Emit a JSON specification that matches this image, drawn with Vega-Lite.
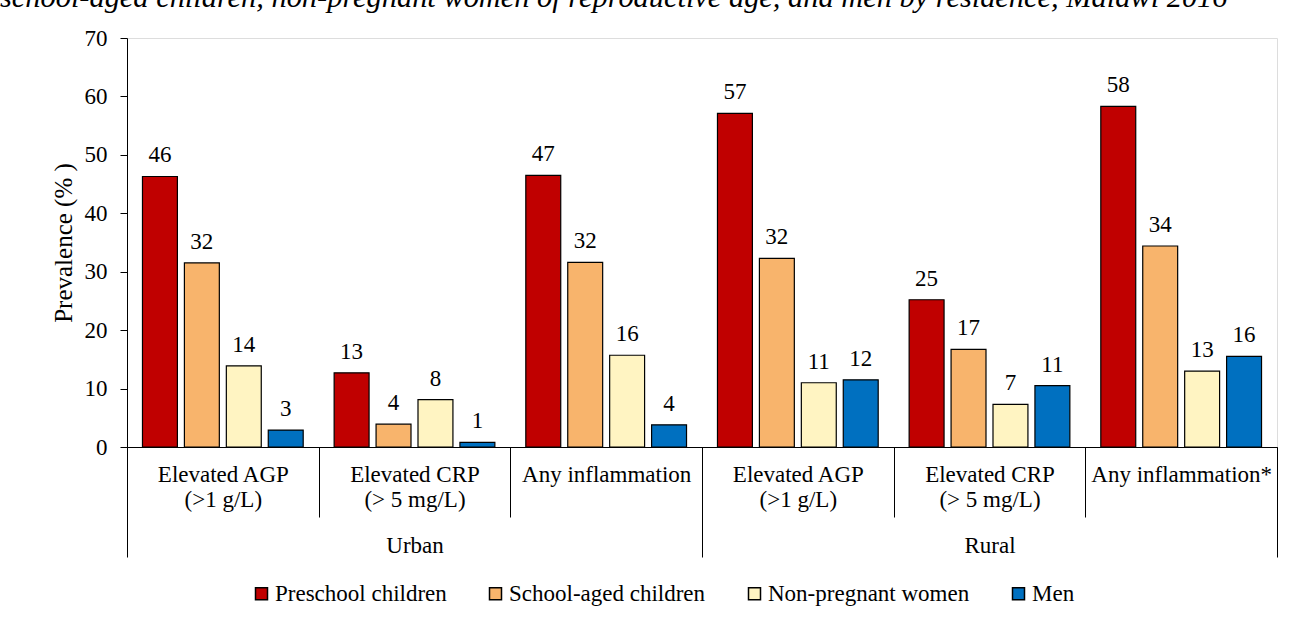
{
  "$schema": "https://vega.github.io/schema/vega-lite/v6.json",
  "width": 1150,
  "height": 409,
  "autosize": {"type": "none"},
  "padding": {"left": 127, "top": 38, "right": 14, "bottom": 177},
  "background": "white",
  "config": {"font": "Times New Roman, Liberation Serif, serif"},
  "title": {
    "text": "school-aged children, non-pregnant women of reproductive age, and men by residence, Malawi 2016",
    "anchor": "start",
    "frame": "group",
    "dx": -127,
    "offset": -10,
    "baseline": "alphabetic",
    "font": "Times New Roman, Liberation Serif, serif",
    "fontStyle": "italic",
    "fontWeight": "normal",
    "fontSize": 30.4,
    "color": "black"
  },
  "data": {
    "values": [
      {"residence": "Urban", "cat": "1 Elevated AGP|(>1 g/L)", "population": "Preschool children", "value": 46.3},
      {"residence": "Urban", "cat": "1 Elevated AGP|(>1 g/L)", "population": "School-aged children", "value": 31.5},
      {"residence": "Urban", "cat": "1 Elevated AGP|(>1 g/L)", "population": "Non-pregnant women", "value": 13.9},
      {"residence": "Urban", "cat": "1 Elevated AGP|(>1 g/L)", "population": "Men", "value": 2.9},
      {"residence": "Urban", "cat": "2 Elevated CRP|(> 5 mg/L)", "population": "Preschool children", "value": 12.7},
      {"residence": "Urban", "cat": "2 Elevated CRP|(> 5 mg/L)", "population": "School-aged children", "value": 3.9},
      {"residence": "Urban", "cat": "2 Elevated CRP|(> 5 mg/L)", "population": "Non-pregnant women", "value": 8.1},
      {"residence": "Urban", "cat": "2 Elevated CRP|(> 5 mg/L)", "population": "Men", "value": 0.8},
      {"residence": "Urban", "cat": "3 Any inflammation", "population": "Preschool children", "value": 46.5},
      {"residence": "Urban", "cat": "3 Any inflammation", "population": "School-aged children", "value": 31.6},
      {"residence": "Urban", "cat": "3 Any inflammation", "population": "Non-pregnant women", "value": 15.7},
      {"residence": "Urban", "cat": "3 Any inflammation", "population": "Men", "value": 3.8},
      {"residence": "Rural", "cat": "4 Elevated AGP|(>1 g/L)", "population": "Preschool children", "value": 57.1},
      {"residence": "Rural", "cat": "4 Elevated AGP|(>1 g/L)", "population": "School-aged children", "value": 32.3},
      {"residence": "Rural", "cat": "4 Elevated AGP|(>1 g/L)", "population": "Non-pregnant women", "value": 11.0},
      {"residence": "Rural", "cat": "4 Elevated AGP|(>1 g/L)", "population": "Men", "value": 11.5},
      {"residence": "Rural", "cat": "5 Elevated CRP|(> 5 mg/L)", "population": "Preschool children", "value": 25.2},
      {"residence": "Rural", "cat": "5 Elevated CRP|(> 5 mg/L)", "population": "School-aged children", "value": 16.7},
      {"residence": "Rural", "cat": "5 Elevated CRP|(> 5 mg/L)", "population": "Non-pregnant women", "value": 7.3},
      {"residence": "Rural", "cat": "5 Elevated CRP|(> 5 mg/L)", "population": "Men", "value": 10.5},
      {"residence": "Rural", "cat": "6 Any inflammation*", "population": "Preschool children", "value": 58.3},
      {"residence": "Rural", "cat": "6 Any inflammation*", "population": "School-aged children", "value": 34.4},
      {"residence": "Rural", "cat": "6 Any inflammation*", "population": "Non-pregnant women", "value": 13.0},
      {"residence": "Rural", "cat": "6 Any inflammation*", "population": "Men", "value": 15.5}
    ]
  },
  "layer": [
    {
      "encoding": {
        "x": {
          "field": "cat",
          "type": "nominal",
          "sort": ["1 Elevated AGP|(>1 g/L)", "2 Elevated CRP|(> 5 mg/L)", "3 Any inflammation", "4 Elevated AGP|(>1 g/L)", "5 Elevated CRP|(> 5 mg/L)", "6 Any inflammation*"],
          "scale": {"paddingInner": 0, "paddingOuter": 0},
          "axis": {
            "title": null,
            "labelAngle": 0,
            "tickBand": "extent",
            "tickSize": 70,
            "tickColor": "black",
            "tickWidth": 1,
            "domainColor": "black",
            "domainWidth": 1,
            "labelPadding": -54,
            "labelFont": "Times New Roman, Liberation Serif, serif",
            "labelFontSize": 23,
            "labelColor": "black",
            "labelLineHeight": 25,
            "labelBaseline": "top",
            "labelLimit": 300,
            "labelExpr": "split(slice(datum.label, 2), '|')"
          }
        },
        "xOffset": {
          "field": "population",
          "type": "nominal",
          "sort": ["Preschool children", "School-aged children", "Non-pregnant women", "Men"],
          "scale": {"paddingInner": 0.167, "paddingOuter": 0.369}
        },
        "y": {
          "field": "value",
          "type": "quantitative",
          "scale": {"domain": [0, 70], "nice": false},
          "axis": {
            "title": "Prevalence (% )",
            "values": [0, 10, 20, 30, 40, 50, 60, 70],
            "grid": false,
            "tickSize": 7,
            "tickColor": "black",
            "domainColor": "black",
            "labelPadding": 13,
            "labelFont": "Times New Roman, Liberation Serif, serif",
            "labelFontSize": 23,
            "labelColor": "black",
            "titleFont": "Times New Roman, Liberation Serif, serif",
            "titleFontSize": 25,
            "titleFontWeight": "normal",
            "titleColor": "black",
            "titlePadding": 8
          }
        }
      },
      "layer": [
        {
          "mark": {"type": "bar", "stroke": "black", "strokeWidth": 1.2},
          "encoding": {
            "color": {
              "field": "population",
              "type": "nominal",
              "scale": {
                "domain": ["Preschool children", "School-aged children", "Non-pregnant women", "Men"],
                "range": ["#C00000", "#F8B46C", "#FFF4C2", "#0070C0"]
              },
              "legend": {
                "title": null,
                "orient": "none",
                "legendX": 123,
                "legendY": 544,
                "direction": "horizontal",
                "symbolType": "square",
                "symbolSize": 144,
                "symbolStrokeColor": "black",
                "symbolStrokeWidth": 1.5,
                "symbolOpacity": 1,
                "labelFont": "Times New Roman, Liberation Serif, serif",
                "labelFontSize": 23,
                "labelColor": "black",
                "labelOffset": 2,
                "columnPadding": 37,
                "labelLimit": 400
              }
            }
          }
        },
        {
          "mark": {"type": "text", "baseline": "bottom", "dy": -9, "font": "Times New Roman, Liberation Serif, serif", "fontSize": 23, "color": "black"},
          "encoding": {
            "text": {"field": "value", "type": "quantitative", "format": ".0f"}
          }
        }
      ]
    },
    {
      "mark": {"type": "rule", "opacity": 0},
      "encoding": {
        "x": {
          "field": "residence",
          "type": "nominal",
          "sort": ["Urban", "Rural"],
          "scale": {"type": "band", "paddingInner": 0, "paddingOuter": 0},
          "axis": {
            "orient": "bottom",
            "title": null,
            "labelAngle": 0,
            "tickBand": "extent",
            "tickSize": 110,
            "tickColor": "black",
            "tickWidth": 1,
            "domain": false,
            "labelPadding": -23,
            "labelFont": "Times New Roman, Liberation Serif, serif",
            "labelFontSize": 23,
            "labelColor": "black",
            "labelBaseline": "top"
          }
        }
      }
    }
  ],
  "resolve": {"scale": {"x": "independent"}, "axis": {"x": "independent"}}
}
